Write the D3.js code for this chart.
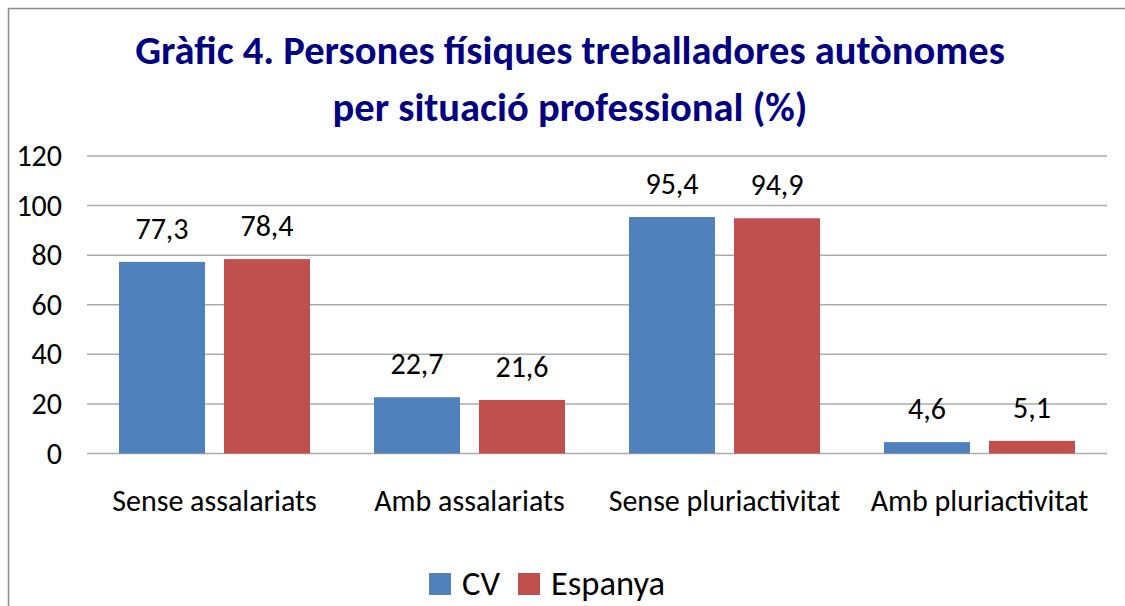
<!DOCTYPE html>
<html>
<head>
<meta charset="utf-8">
<script src="https://cdn.jsdelivr.net/npm/d3@7"></script>
<style>
  body { margin: 0; background: #fff; }
  text { font-family: Carlito, Calibri, Lato, sans-serif; }
</style>
</head>
<body>
<script>
var width = 1125,
    height = 606;

var categories = ["Sense assalariats", "Amb assalariats", "Sense pluriactivitat", "Amb pluriactivitat"];
var seriesNames = ["CV", "Espanya"];
var cvValues = [77.3, 22.7, 95.4, 4.6];
var espanyaValues = [78.4, 21.6, 94.9, 5.1];
var yTicks = [0, 20, 40, 60, 80, 100, 120];
var titleLines = ["Gràfic 4. Persones físiques treballadores autònomes", "per situació professional (%)"];

var color = d3.scaleOrdinal().domain(seriesNames).range(["#4F81BD", "#C0504D"]);

var rows = categories.map(function(c, i) {
  return { cat: c, values: [
    { key: "CV", value: cvValues[i] },
    { key: "Espanya", value: espanyaValues[i] }
  ]};
});

var svg = d3.select("body").append("svg")
    .attr("width", width)
    .attr("height", height);

// outer frame (only top and left visible in the picture)
svg.append("path")
    .attr("d", "M8.5," + height + "V8.5H" + width)
    .attr("fill", "none")
    .attr("stroke", "#8c8c8c")
    .attr("stroke-width", 1.5);

var x0 = d3.scaleBand()
    .domain(categories)
    .range([87, 1107]);

var x1 = d3.scaleBand()
    .domain(seriesNames)
    .range([32, 223])
    .paddingInner(0.181);

var y = d3.scaleLinear()
    .domain([0, 120])
    .range([453.5, 156]);

// title
svg.append("g").selectAll("text")
    .data(titleLines)
    .enter().append("text")
    .attr("x", 570)
    .attr("y", function(d, i) { return 64 + i * 57; })
    .attr("text-anchor", "middle")
    .attr("font-size", 40.5)
    .attr("font-weight", "bold")
    .attr("fill", "#000080")
    .text(function(d) { return d; });

// gridlines
svg.append("g").selectAll("line")
    .data(yTicks)
    .enter().append("line")
    .attr("x1", 87)
    .attr("x2", 1107)
    .attr("y1", function(d) { return y(d); })
    .attr("y2", function(d) { return y(d); })
    .attr("stroke", "#ababab")
    .attr("stroke-width", 1.5);

// y axis labels
var yAxis = svg.append("g")
    .attr("transform", "translate(62,0)")
    .call(d3.axisLeft(y).tickValues(yTicks).tickSize(0).tickPadding(0));
yAxis.select(".domain").remove();
yAxis.selectAll("text")
    .attr("font-size", 30)
    .attr("fill", "#000")
    .attr("font-family", null);

// x axis labels
var xAxis = svg.append("g")
    .attr("transform", "translate(0,453.5)")
    .call(d3.axisBottom(x0).tickSize(0).tickPadding(0));
xAxis.select(".domain").remove();
xAxis.selectAll("text")
    .attr("dy", null)
    .attr("y", 57)
    .attr("font-size", 30)
    .attr("fill", "#000")
    .attr("font-family", null);

// bars
var group = svg.append("g").selectAll("g")
    .data(rows)
    .enter().append("g")
    .attr("transform", function(d) { return "translate(" + x0(d.cat) + ",0)"; });

group.selectAll("rect")
    .data(function(d) { return d.values; })
    .enter().append("rect")
    .attr("x", function(d) { return x1(d.key); })
    .attr("width", x1.bandwidth())
    .attr("y", function(d) { return y(d.value); })
    .attr("height", function(d) { return y(0) - y(d.value); })
    .attr("fill", function(d) { return color(d.key); });

group.selectAll("text")
    .data(function(d) { return d.values; })
    .enter().append("text")
    .attr("x", function(d) { return x1(d.key) + x1.bandwidth() / 2; })
    .attr("y", function(d) { return y(d.value) - 23; })
    .attr("text-anchor", "middle")
    .attr("font-size", 30)
    .attr("fill", "#000")
    .text(function(d) { return d.value.toFixed(1).replace(".", ","); });

// legend
var legendX = [429, 518];
var legend = svg.append("g").selectAll("g")
    .data(seriesNames)
    .enter().append("g")
    .attr("transform", function(d, i) { return "translate(" + legendX[i] + ",573)"; });

legend.append("rect")
    .attr("width", 22)
    .attr("height", 22)
    .attr("fill", function(d) { return color(d); });

legend.append("text")
    .attr("x", 33)
    .attr("y", 22)
    .attr("font-size", 34.5)
    .attr("fill", "#000")
    .text(function(d) { return d; });
</script>
</body>
</html>
